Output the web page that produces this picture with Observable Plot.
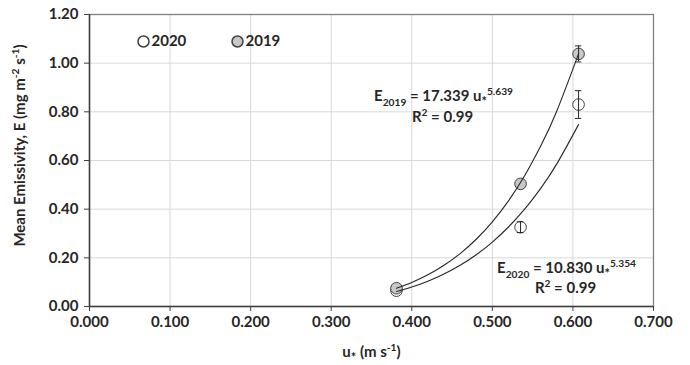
<!DOCTYPE html>
<html><head><meta charset="utf-8">
<script src="https://cdn.jsdelivr.net/npm/d3@7"></script>
<script src="https://cdn.jsdelivr.net/npm/@observablehq/plot@0.6"></script>
<style>
body{margin:0;background:#fff;}
#chart{width:690px;height:365px;}
</style>
</head><body><div id="chart"></div>
<script>
// ---- data ----
const uStar   = [0.381, 0.535, 0.607];
const e2019   = [0.075, 0.504, 1.038];
const err2019 = [0, 0, 0.033];
const e2020   = [0.065, 0.326, 0.830];
const err2020 = [0, 0.022, 0.057];

// fitted power-law trendlines (as drawn), sampled along u*
const fitU    = [0.381, 0.40, 0.42, 0.44, 0.46, 0.48, 0.50, 0.52, 0.54, 0.56, 0.58, 0.607];
const fit2019 = [0.0751, 0.0989, 0.1302, 0.1692, 0.2174, 0.2764, 0.3479, 0.4341, 0.5370, 0.6593, 0.8036, 1.0385];
const fit2020 = [0.0618, 0.0802, 0.1041, 0.1336, 0.1694, 0.2128, 0.2648, 0.3267, 0.3998, 0.4857, 0.5861, 0.7478];

const xTicks = [0, 0.1, 0.2, 0.3, 0.4, 0.5, 0.6, 0.7];
const yTicks = [0, 0.2, 0.4, 0.6, 0.8, 1.0, 1.2];

const legendLabels = ["2020", "2019"];
const eq2019 = "E_{2019} = 17.339 u~{*}^{5.639}";
const eq2020 = "E_{2020} = 10.830 u~{*}^{5.354}";
const r2Text = "R^{2} = 0.99";
const xLabel = "u~{*} (m s^{-1})";
const yLabel = "Mean Emissivity, E (mg m^{-2} s^{-1})";

// ---- tables ----
const pts2019 = uStar.map((u, i) => ({u, e: e2019[i], err: err2019[i]}));
const pts2020 = uStar.map((u, i) => ({u, e: e2020[i], err: err2020[i]}));
const fit19 = fitU.map((u, i) => ({u, e: fit2019[i]}));
const fit20 = fitU.map((u, i) => ({u, e: fit2020[i]}));

const ink = "#262626";
const fontW = "bold";
const capHalf = 0.004;

function errMarks(data) {
  const d0 = data.filter(d => d.err > 0);
  return [
    Plot.ruleX(d0, {x: "u", y1: d => d.e - d.err, y2: d => d.e + d.err, stroke: ink, strokeWidth: 1}),
    Plot.ruleY(d0, {y: d => d.e + d.err, x1: d => d.u - capHalf, x2: d => d.u + capHalf, stroke: ink, strokeWidth: 1}),
    Plot.ruleY(d0, {y: d => d.e - d.err, x1: d => d.u - capHalf, x2: d => d.u + capHalf, stroke: ink, strokeWidth: 1})
  ];
}

const txt = (value, opts) => Plot.text([value], {text: d => d, fontWeight: fontW, fill: ink, lineAnchor: "middle", ...opts});

const chart = Plot.plot({
  width: 690,
  height: 365,
  marginLeft: 89,
  marginRight: 37,
  marginTop: 14,
  marginBottom: 59,
  style: {fontFamily: "Lato, 'Open Sans', sans-serif", background: "#fff", color: ink},
  x: {domain: [0, 0.7], label: null},
  y: {domain: [0, 1.2], label: null},
  marks: [
    Plot.gridX(xTicks, {stroke: "#d9d9d9", strokeOpacity: 1}),
    Plot.gridY(yTicks, {stroke: "#d9d9d9", strokeOpacity: 1}),
    Plot.frame({stroke: "#808080", strokeWidth: 1.3}),
    Plot.axisX({ticks: xTicks, tickFormat: d3.format(".3f"), tickSize: 5, tickPadding: 5, fontSize: 15, fontWeight: fontW, stroke: "#404040", label: null}),
    Plot.axisY({ticks: yTicks, tickFormat: d3.format(".2f"), tickSize: 5, tickPadding: 6, fontSize: 15, fontWeight: fontW, stroke: "#404040", label: null}),
    Plot.ruleX([0], {stroke: "#404040", strokeWidth: 1.5}),
    Plot.ruleY([0], {stroke: "#404040", strokeWidth: 1.5}),
    // points
    Plot.dot(pts2020, {x: "u", y: "e", r: 5.8, fill: "#ffffff", stroke: "#404040", strokeWidth: 1}),
    Plot.dot(pts2019, {x: "u", y: "e", r: 5.8, fill: "#c8c8c8", stroke: "#404040", strokeWidth: 1}),
    // trendlines (drawn over the markers, as in the reference)
    Plot.line(fit19, {x: "u", y: "e", curve: "natural", stroke: ink, strokeWidth: 1.1}),
    Plot.line(fit20, {x: "u", y: "e", curve: "natural", stroke: ink, strokeWidth: 1.1}),
    ...errMarks(pts2019),
    ...errMarks(pts2020),
    // legend
    Plot.dot([legendLabels[0]], {frameAnchor: "top-left", dx: 54, dy: 27, r: 5.5, fill: "#fff", stroke: "#404040"}),
    txt(legendLabels[0], {frameAnchor: "top-left", dx: 62, dy: 27, textAnchor: "start", fontSize: 15}),
    Plot.dot([legendLabels[1]], {frameAnchor: "top-left", dx: 148, dy: 27, r: 5.5, fill: "#c8c8c8", stroke: "#404040"}),
    txt(legendLabels[1], {frameAnchor: "top-left", dx: 156, dy: 27, textAnchor: "start", fontSize: 15}),
    // equations
    txt(eq2019, {frameAnchor: "top-left", dx: 354, dy: 82, textAnchor: "middle", fontSize: 15}),
    txt(r2Text, {frameAnchor: "top-left", dx: 353, dy: 103, textAnchor: "middle", fontSize: 15}),
    txt(eq2020, {frameAnchor: "top-left", dx: 477, dy: 254, textAnchor: "middle", fontSize: 15}),
    txt(r2Text, {frameAnchor: "top-left", dx: 476, dy: 274, textAnchor: "middle", fontSize: 15}),
    // axis titles
    txt(xLabel, {frameAnchor: "bottom", dy: 46, textAnchor: "middle", fontSize: 15}),
    txt(yLabel, {frameAnchor: "left", dx: -69, dy: -15, rotate: -90, textAnchor: "middle", fontSize: 15})
  ]
});

document.getElementById("chart").appendChild(chart);

// turn _{..} / ^{..} / ~{..} into real subscript / superscript / low-mark tspans
function richify(root) {
  const kinds = {
    "_": {shift: 0.28, size: 0.68},
    "^": {shift: -0.42, size: 0.68},
    "~": {shift: 0.34, size: 0.85}
  };
  d3.select(root).selectAll("text").each(function() {
    const el = this;
    const s = el.textContent;
    if (!/[_^~]\{/.test(s)) return;
    const fs = parseFloat(getComputedStyle(el).fontSize) || 14;
    const re = /([_^~])\{([^}]*)\}|([^_^~]+)/g;
    while (el.firstChild) el.removeChild(el.firstChild);
    let m, level = 0;
    while ((m = re.exec(s)) !== null) {
      let target, t0, size = null;
      if (m[3] !== undefined) { target = 0; t0 = m[3]; }
      else { const k = kinds[m[1]]; target = fs * k.shift; size = fs * k.size; t0 = m[2]; }
      const t = document.createElementNS("http://www.w3.org/2000/svg", "tspan");
      t.textContent = t0;
      const dy = target - level;
      if (dy !== 0) t.setAttribute("dy", dy.toFixed(2));
      if (size) t.setAttribute("font-size", size.toFixed(1));
      el.appendChild(t);
      level = target;
    }
  });
}
richify(chart);
</script>
</body></html>
